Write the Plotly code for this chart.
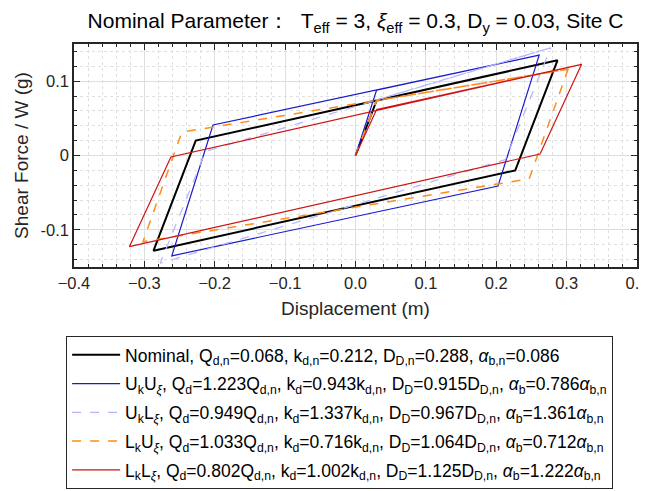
import plotly.graph_objects as go

# ---- data (corner points of each hysteresis loop) ----
nominal_disp  = [0, 0.030, 0.287, 0.227, -0.287, -0.227, 0.287]
nominal_force = [0, 0.074, 0.128, -0.020, -0.128, 0.020, 0.128]

ukuxi_disp  = [0, 0.030, 0.261, 0.2025, -0.261, -0.2025, 0.261]
ukuxi_force = [0, 0.088, 0.135, -0.041, -0.135, 0.041, 0.135]

uklxi_disp  = [0, 0.030, 0.2775, 0.213, -0.2775, -0.213, 0.2775]
uklxi_force = [0, 0.075, 0.145, -0.0055, -0.145, 0.0055, 0.145]

lkuxi_disp  = [0, 0.030, 0.302, 0.2468, -0.302, -0.2468, 0.302]
lkuxi_force = [0, 0.074, 0.116, -0.0314, -0.116, 0.0314, 0.116]

lklxi_disp  = [0, 0.030, 0.3213, 0.2623, -0.3213, -0.2623, 0.3213]
lklxi_force = [0, 0.062, 0.1227, 0.002, -0.1227, -0.002, 0.1227]

legend_names = [
    "Nominal, Q<sub>d,n</sub>=0.068, k<sub>d,n</sub>=0.212, D<sub>D,n</sub>=0.288, <i>α</i><sub>b,n</sub>=0.086",
    "U<sub>k</sub>U<sub><i>ξ</i></sub>, Q<sub>d</sub>=1.223Q<sub>d,n</sub>, k<sub>d</sub>=0.943k<sub>d,n</sub>, D<sub>D</sub>=0.915D<sub>D,n</sub>, <i>α</i><sub>b</sub>=0.786<i>α</i><sub>b,n</sub>",
    "U<sub>k</sub>L<sub><i>ξ</i></sub>, Q<sub>d</sub>=0.949Q<sub>d,n</sub>, k<sub>d</sub>=1.337k<sub>d,n</sub>, D<sub>D</sub>=0.967D<sub>D,n</sub>, <i>α</i><sub>b</sub>=1.361<i>α</i><sub>b,n</sub>",
    "L<sub>k</sub>U<sub><i>ξ</i></sub>, Q<sub>d</sub>=1.033Q<sub>d,n</sub>, k<sub>d</sub>=0.716k<sub>d,n</sub>, D<sub>D</sub>=1.064D<sub>D,n</sub>, <i>α</i><sub>b</sub>=0.712<i>α</i><sub>b,n</sub>",
    "L<sub>k</sub>L<sub><i>ξ</i></sub>, Q<sub>d</sub>=0.802Q<sub>d,n</sub>, k<sub>d</sub>=1.002k<sub>d,n</sub>, D<sub>D</sub>=1.125D<sub>D,n</sub>, <i>α</i><sub>b</sub>=1.222<i>α</i><sub>b,n</sub>",
]

series = [
    (nominal_disp, nominal_force, "#000000", 2.0, "solid"),
    (ukuxi_disp, ukuxi_force, "#1a1acc", 1.2, "solid"),
    (uklxi_disp, uklxi_force, "#b3b3ff", 1.2, "dash"),
    (lkuxi_disp, lkuxi_force, "#ff8c1a", 1.5, "dash"),
    (lklxi_disp, lklxi_force, "#cc1414", 1.2, "solid"),
]

FONT = "Liberation Sans, Arial, Helvetica, sans-serif"

# page body has an 8px margin: the figure is positioned to compensate
W, H = 647, 483

fig = go.Figure()
for i, ((xd, yd, col, w, dash), name) in enumerate(zip(series, legend_names)):
    fig.add_trace(go.Scatter(x=xd, y=yd, mode="lines", name=name, legendgroup=f"g{i}",
                             line=dict(color=col, width=w, dash=dash)))

axis_common = dict(
    showline=True, linecolor="#262626", linewidth=1.5, mirror="allticks",
    ticks="inside", ticklen=6, tickcolor="#262626",
    showgrid=True, gridcolor="#dedede", gridwidth=1,
    zeroline=False, ticklabeloverflow="allow",
    tickfont=dict(family=FONT, size=16.5, color="#262626"),
    minor=dict(dtick=0.02, showgrid=True, gridcolor="#e0e0e0", griddash="dot",
               ticks="inside", ticklen=3, tickcolor="#262626"),
)

fig.update_xaxes(range=[-0.4, 0.4], dtick=0.1, tickformat=".1f",
                 title=dict(text="Displacement (m)", font=dict(family=FONT, size=19, color="#262626"), standoff=11),
                 **axis_common)
fig.update_yaxes(range=[-0.15, 0.15], tickvals=[-0.1, 0, 0.1], ticktext=["-0.1", "0", "0.1"],
                 title=dict(text="Shear Force / W (g)", font=dict(family=FONT, size=19, color="#262626"), standoff=7),
                 **axis_common)

fig.update_layout(
    width=W, height=H,
    margin=dict(l=65.5, r=18, t=36, b=224, autoexpand=False),
    paper_bgcolor="white", plot_bgcolor="white",
    font=dict(family=FONT, color="#000000"),
    title=dict(text="Nominal Parameter：  T<sub>eff</sub> = 3, <i>ξ</i><sub>eff</sub> = 0.3, D<sub>y</sub> = 0.03, Site C",
               xref="paper", x=0.5, xanchor="center", y=1 - 13 / H, yanchor="middle",
               font=dict(family=FONT, size=21, color="#000000")),
    showlegend=True,
    legend=dict(x=-0.014, xanchor="left", y=-0.309, yanchor="top",
                bordercolor="#262626", borderwidth=1, bgcolor="white",
                font=dict(family=FONT, size=17.5, color="#000000"),
                itemwidth=48, tracegroupgap=3),
)

fig.write_html("out.html")
